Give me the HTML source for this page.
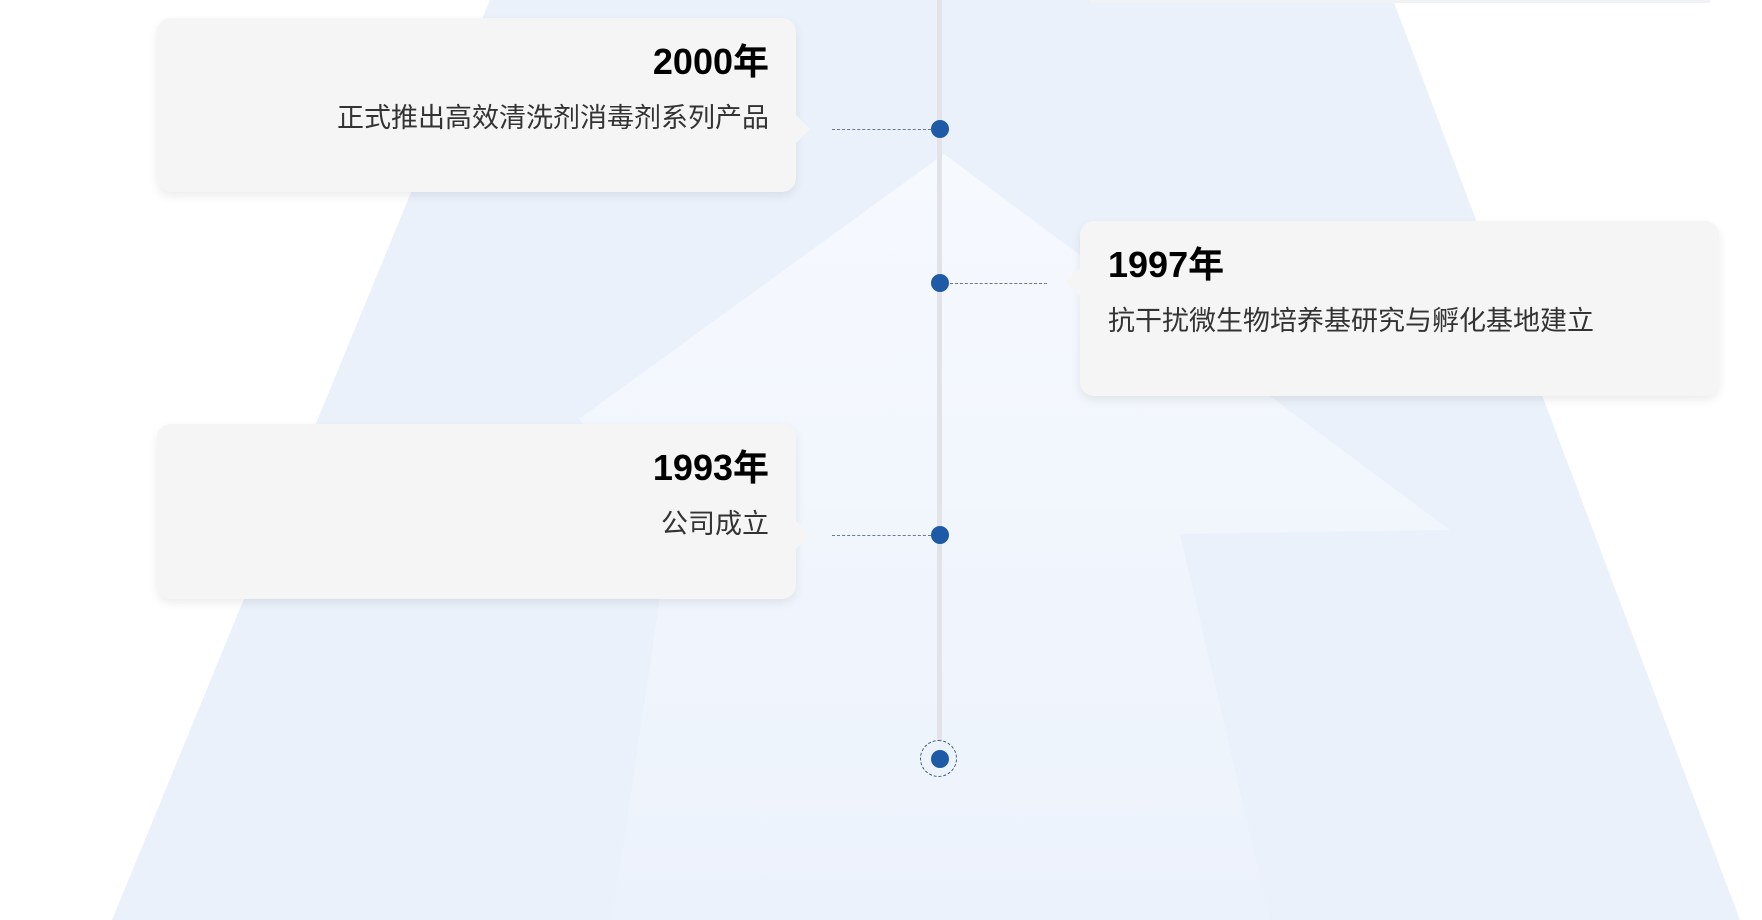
<!DOCTYPE html>
<html><head><meta charset="utf-8"><style>
html,body{margin:0;padding:0;}
body{width:1762px;height:920px;position:relative;overflow:hidden;background:#fff;font-family:"Liberation Sans","Noto Sans CJK SC",sans-serif;}
svg.bg{position:absolute;left:0;top:0;}
.card{position:absolute;background:#f5f5f5;border-radius:14px;box-shadow:0 4px 10px rgba(0,0,0,0.08);}
.yr{position:absolute;font-weight:bold;font-size:36px;color:#000;line-height:1;}
.ds{position:absolute;font-size:27px;color:#333;line-height:1;white-space:nowrap;}
.dash{position:absolute;height:0;border-top:1px dashed #6a7a8c;}
.dot{position:absolute;width:18px;height:18px;border-radius:50%;background:#1f5aa6;}
</style></head><body>
<svg class="bg" width="1762" height="920">
<defs><linearGradient id="g" x1="0" y1="0" x2="0" y2="1"><stop offset="0" stop-color="#f6f9fe"/><stop offset="1" stop-color="#ecf2fc"/></linearGradient></defs>
<polygon points="490,0 1393,0 1740,920 112,920" fill="#eaf1fb"/>
<polygon points="944,154 1450,530 1180,534 1270,920 612,920 670,530 579,419" fill="url(#g)"/>
<rect x="1090" y="0" width="620" height="3" fill="#f0f2f5"/>
</svg>
<div style="position:absolute;left:937px;top:0;width:5px;height:750px;background:#e1e3e8;"></div>

<div class="card" style="left:157px;top:18px;width:639px;height:174px;"></div>
<div style="position:absolute;left:796px;top:115px;width:0;height:0;border:14px solid transparent;border-left-color:#f5f5f5;"></div>
<div class="yr" style="right:993px;top:44px;">2000年</div>
<div class="ds" style="right:993px;top:105px;">正式推出高效清洗剂消毒剂系列产品</div>
<div class="dash" style="left:832px;top:129px;width:104px;"></div>
<div class="dot" style="left:931px;top:120px;"></div>

<div class="card" style="left:1080px;top:221px;width:639px;height:175px;"></div>
<div style="position:absolute;left:1052px;top:268px;width:0;height:0;border:14px solid transparent;border-right-color:#f5f5f5;"></div>
<div class="yr" style="left:1108px;top:247px;">1997年</div>
<div class="ds" style="left:1108px;top:308px;">抗干扰微生物培养基研究与孵化基地建立</div>
<div class="dash" style="left:950px;top:283px;width:97px;"></div>
<div class="dot" style="left:931px;top:274px;"></div>

<div class="card" style="left:157px;top:424px;width:639px;height:175px;"></div>
<div style="position:absolute;left:796px;top:521px;width:0;height:0;border:14px solid transparent;border-left-color:#f5f5f5;"></div>
<div class="yr" style="right:993px;top:450px;">1993年</div>
<div class="ds" style="right:993px;top:511px;">公司成立</div>
<div class="dash" style="left:832px;top:535px;width:104px;"></div>
<div class="dot" style="left:931px;top:526px;"></div>

<div style="position:absolute;left:920px;top:740px;width:37px;height:37px;border-radius:50%;border:1px dashed #3c5a80;box-sizing:border-box;background:#edf3fc;"></div>
<div class="dot" style="left:931px;top:750px;"></div>
</body></html>
